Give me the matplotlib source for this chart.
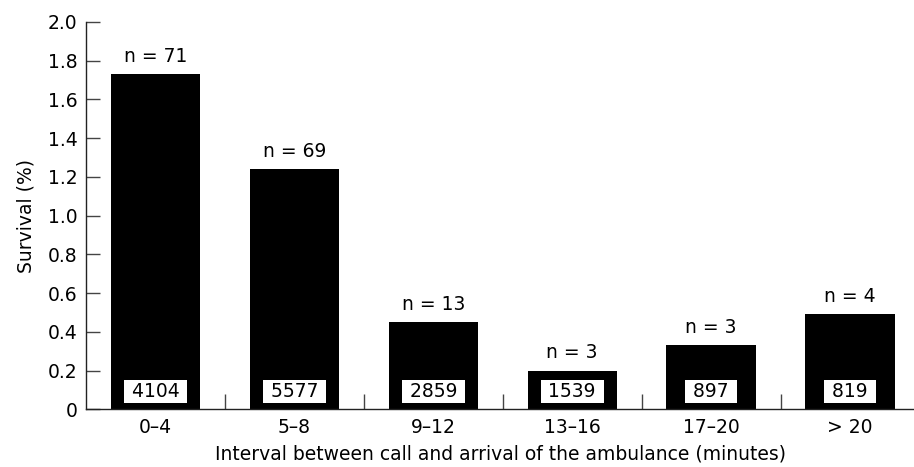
import matplotlib
matplotlib.use("Agg")
import matplotlib.pyplot as plt
import numpy as np

categories = ["0\u20134", "5\u20138", "9\u201312", "13\u201316", "17\u201320", "> 20"]
survival = [1.73, 1.24, 0.45, 0.20, 0.33, 0.49]
survivors = [71, 69, 13, 3, 3, 4]
totals = [4104, 5577, 2859, 1539, 897, 819]
yticks = [0, 0.2, 0.4, 0.6, 0.8, 1.0, 1.2, 1.4, 1.6, 1.8, 2.0]
ytick_labels = ["0", "0.2", "0.4", "0.6", "0.8", "1.0", "1.2", "1.4", "1.6", "1.8", "2.0"]

plt.rcParams['font.family'] = ['DejaVu Sans']

fig = plt.figure(figsize=(9.14, 4.67), dpi=100)
ax = fig.add_axes([0.0941, 0.1236, 0.9059, 0.8293])

x = np.arange(len(categories))
ax.bar(x, survival, width=0.644, color="black", zorder=2)

ax.set_xlim(-0.5, 5.46)
ax.set_ylim(0, 2.0)

for spine in ["top", "right"]:
    ax.spines[spine].set_visible(False)
for spine in ["left", "bottom"]:
    ax.spines[spine].set_linewidth(1.0)
    ax.spines[spine].set_color("#222222")

ax.set_yticks(yticks)
ax.set_yticklabels(ytick_labels, fontsize=13.5)
ax.tick_params(axis="y", direction="in", length=10, width=1.0, color="#444444", pad=6)

ax.set_xticks(x)
ax.set_xticklabels(categories, fontsize=13.5)
ax.tick_params(axis="x", which="major", length=0, pad=6)
ax.set_xticks(x[:-1] + 0.5, minor=True)
ax.tick_params(axis="x", which="minor", direction="in", length=11, width=1.0, color="#444444")

for xi, s, n, t in zip(x, survival, survivors, totals):
    ax.annotate(f"n = {n}", xy=(xi, s), xytext=(0, 6), textcoords="offset points",
                ha="center", va="bottom", fontsize=13.5)
    ax.text(xi, 0.093, f" {t} ", ha="center", va="center", fontsize=13.5, color="black",
            bbox=dict(boxstyle="square,pad=0.1", facecolor="white", edgecolor="none"), zorder=3)

ax.set_ylabel("Survival (%)", fontsize=13.5, va="center")
ax.yaxis.set_label_coords(-0.073, 0.5)
ax.set_xlabel("Interval between call and arrival of the ambulance (minutes)", fontsize=13.5, labelpad=6)

fig.savefig("out.png", dpi=100)
